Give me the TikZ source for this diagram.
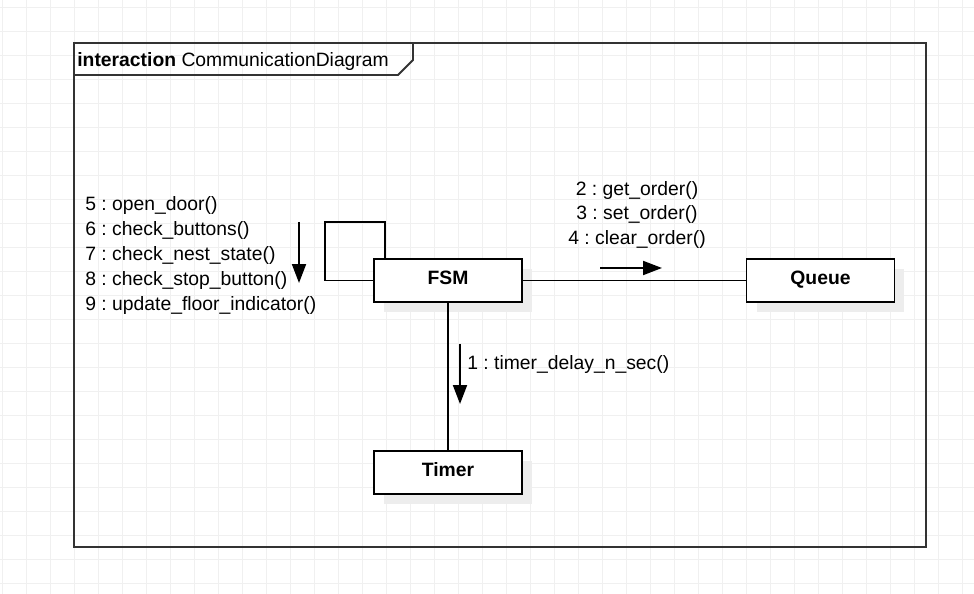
\documentclass[tikz,border=0pt]{standalone}
\usepackage{fontspec}
\setmainfont{Liberation Sans}
\usetikzlibrary{arrows.meta, positioning, shadows}
\frenchspacing

\begin{document}
\begin{tikzpicture}[
    x=0.02cm, y=-0.02cm,
    every node/.style={font=\fontsize{11}{14.2}\selectfont},
    object/.style={rectangle, draw=black, line width=1.1pt, fill=white, minimum width=2.96cm, minimum height=0.86cm,
        font=\fontsize{11}{14}\selectfont\bfseries, text height=1.5ex, text depth=0.55ex,
        general shadow={fill=black!7, shadow xshift=0.2cm, shadow yshift=-0.2cm}},
    link/.style={line width=1.1pt, color=black},
    msg/.style={-{Triangle[length=0.38cm, width=0.28cm]}, line width=1.1pt},
    label_text/.style={inner sep=0pt, align=left},
    frame/.style={line width=1.1pt, color=black!80},
    gridline/.style={color=black!6, line width=0.4pt}
]

% Fondo
\fill[white] (0,0) rectangle (974,594);
\useasboundingbox (0,0) rectangle (974,594);
\foreach \gx in {2.7, 26.7, ..., 974} \draw[gridline] (\gx,0) -- (\gx,594);
\foreach \gy in {7.3, 31.3, ..., 594} \draw[gridline] (0,\gy) -- (974,\gy);

% Marco
\draw[frame] (74,43) rectangle (926,547);
\draw[frame] (74,75) -- (398,75) -- (413,60) -- (413,43);
\node[label_text, anchor=west] (title) at (77,61.5) {\textbf{interaction} CommunicationDiagram};

% Objetos
\node[object] (FSM) at (448,280.5) {FSM};
\node[object] (Queue) at (820.5,280.5) {Queue};
\node[object] (Timer) at (448,472.5) {Timer};

% Enlaces
\draw[link] (FSM) -- (Queue);
\draw[link] (FSM) -- (Timer);
\draw[link] (FSM.north west) ++(12,0) |- ++(-60,-36) |- (FSM.west);

% Mensajes
\coordinate (m1a) at (460,344);
\coordinate (m1b) at (460,404);
\draw[msg] (m1a) -- (m1b);
\node[label_text, anchor=west] (m1) at (467,365) {1 : timer\_delay\_n\_sec()};

\coordinate (m2a) at (600,268);
\coordinate (m2b) at (662,268);
\draw[msg] (m2a) -- (m2b);
\node[label_text, align=center] (m2) at (637,215) {2 : get\_order()\\3 : set\_order()\\4 : clear\_order()};

\coordinate (m5a) at (299,222);
\coordinate (m5b) at (299,283);
\draw[msg] (m5a) -- (m5b);
\node[label_text, anchor=north west] (m5) at (85,196.5) {5 : open\_door()\\6 : check\_buttons()\\7 : check\_nest\_state()\\8 : check\_stop\_button()\\9 : update\_floor\_indicator()};

\end{tikzpicture}
\end{document}
